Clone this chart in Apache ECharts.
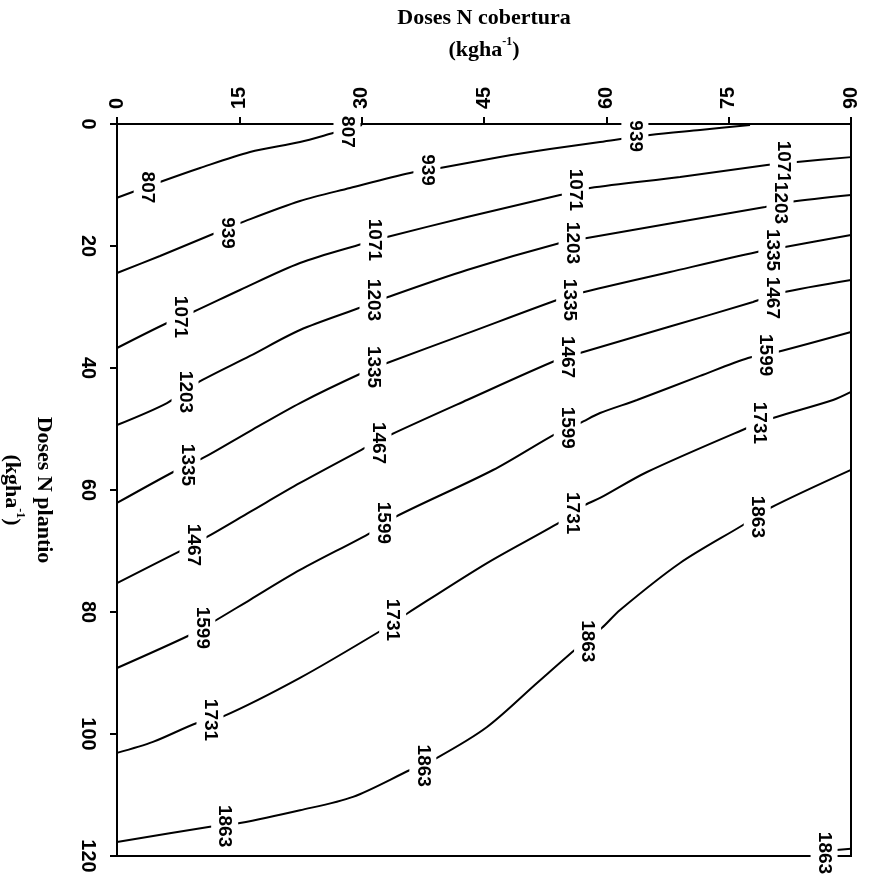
<!DOCTYPE html>
<html>
<head>
<meta charset="utf-8">
<script src="https://cdn.jsdelivr.net/npm/echarts@6/dist/echarts.min.js"></script>
<style>
  html, body { margin: 0; padding: 0; background: #fff; }
  #chart { width: 871px; height: 878px; }
</style>
</head>
<body>
<div id="chart"></div>
<script>
// Isolinhas de produtividade: [dose N cobertura, dose N plantio]
const levels = [807, 939, 1071, 1203, 1335, 1467, 1599, 1731, 1863];

const line807 = [[0, 12.1], [5.27, 9.51], [10.18, 7.21], [16.31, 4.59], [22.44, 2.95], [26.49, 1.48], [30.04, 0.16]];
const line939 = [[0, 24.43], [5.27, 21.64], [11.77, 18.03], [15.08, 16.23], [22.44, 12.62], [28.57, 10.49], [35.93, 8.03],
  [39.61, 7.21], [46.96, 5.41], [53.09, 4.10], [59.23, 2.95], [65.36, 1.80], [71.49, 0.98], [77.62, 0.16]];
const line1071 = [[0, 36.72], [6.13, 32.62], [9.32, 30.82], [15.08, 27.21], [22.44, 22.79], [30.04, 19.67], [33.11, 18.52],
  [42.92, 15.25], [54.32, 11.64], [58.0, 10.49], [69.04, 8.69], [79.7, 6.72], [83.38, 6.23], [90, 5.43]];
const line1203 = [[0, 49.34], [6.13, 45.74], [9.81, 42.46], [16.31, 38.03], [22.44, 33.77], [30.04, 30.0], [33.23, 28.36],
  [42.92, 23.93], [54.32, 19.51], [57.63, 18.69], [68.5, 16.15], [79.46, 13.61], [82.52, 12.79], [90, 11.64]];
const line1335 = [[0, 62.13], [7.36, 56.72], [10.55, 54.75], [16.31, 50.33], [22.44, 45.74], [30.04, 40.82], [33.11, 39.18],
  [42.92, 34.33], [53.95, 28.85], [56.77, 27.70], [67.8, 24.26], [78.47, 20.98], [81.9, 20.16], [90, 18.2]];
const line1467 = [[0, 75.25], [7.97, 69.84], [11.04, 67.70], [16.31, 63.6], [22.44, 58.85], [30.41, 53.11], [33.48, 50.98],
  [42.92, 45.25], [53.95, 38.69], [56.77, 37.54], [67.8, 33.2], [77.99, 29.18], [81.3, 27.7], [90, 25.57]];
const line1599 = [[0, 89.18], [8.95, 83.77], [11.77, 81.64], [16.31, 78.0], [22.44, 73.11], [31.27, 66.89], [34.09, 64.43],
  [46.11, 56.72], [53.95, 50.66], [56.77, 49.02], [59.23, 47.38], [63.76, 45.25], [71.5, 41.3], [77.38, 38.36],
  [80.93, 37.38], [90, 34.1]];
const line1731 = [[0, 103.1], [4.41, 101.3], [9.81, 98.2], [12.88, 97.2], [22.44, 90.8], [32.5, 82.95], [35.68, 80.16],
  [45.37, 71.97], [54.32, 65.25], [57.39, 62.46], [59.23, 61.31], [64.99, 57.05], [77.25, 49.84], [80.44, 48.2],
  [87.8, 45.25], [90, 43.93]];
const line1863 = [[0, 117.7], [11.4, 115.2], [15.08, 114.6], [22.44, 112.5], [28.94, 110.3], [35.93, 105.9], [39.24, 103.9],
  [45.37, 98.85], [51.5, 91.64], [56.4, 85.9], [59.47, 82.6], [61.68, 79.67], [69.04, 71.97], [76.76, 65.74],
  [80.07, 62.95], [90, 56.7]];
const line1863corner = [[88.2, 119.0], [90, 118.8]];

const contourLines = [line807, line939, line1071, line1203, line1335, line1467, line1599, line1731, line1863];

// Posição dos rótulos de cada isolinha
const labels807 = [[3.7, 10.4], [28.2, 1.3]];
const labels939 = [[13.49, 17.87], [38.0, 7.54], [63.5, 2.0]];
const labels1071 = [[7.73, 31.64], [31.5, 19.0], [56.2, 10.8], [81.7, 6.2]];
const labels1203 = [[8.34, 43.93], [31.39, 28.85], [55.8, 19.5], [81.3, 12.95]];
const labels1335 = [[8.58, 55.9], [31.39, 39.84], [55.5, 28.85], [80.3, 20.66]];
const labels1467 = [[9.32, 69.0], [32.0, 52.3], [55.2, 38.2], [80.3, 28.5]];
const labels1599 = [[10.4, 82.6], [32.6, 65.4], [55.2, 49.8], [79.5, 37.9]];
const labels1731 = [[11.4, 97.7], [33.8, 81.3], [55.8, 63.8], [78.8, 49.0]];
const labels1863 = [[13.2, 115.1], [37.5, 105.2], [57.7, 84.8], [78.5, 64.4], [86.7, 119.5]];

const contourLabels = [labels807, labels939, labels1071, labels1203, labels1335, labels1467, labels1599, labels1731, labels1863];

const xTitle = 'Doses N cobertura';
const yTitle = 'Doses N plantio';
const unitMain = '(kgha';
const unitSup = '-1';

const serifFont = "'Liberation Serif', 'Times New Roman', serif";
const sansFont = "'Liberation Sans', Arial, sans-serif";

const titleRich = {
  t: { fontFamily: serifFont, fontWeight: 'bold', fontSize: 22, color: '#000', lineHeight: 32 },
  s: { fontFamily: serifFont, fontWeight: 'bold', fontSize: 12, color: '#000', verticalAlign: 'top', lineHeight: 32, padding: [2, 0, 0, 0] }
};

const series = [];
contourLines.forEach((pts, i) => {
  series.push({
    type: 'line',
    name: String(levels[i]),
    data: pts,
    showSymbol: false,
    symbol: 'none',
    smooth: 0.3,
    lineStyle: { color: '#000', width: 2 },
    z: 3,
    silent: true
  });
});
series.push({
  type: 'line',
  name: '1863b',
  data: line1863corner,
  symbol: 'none',
  lineStyle: { color: '#000', width: 2 },
  z: 3,
  silent: true
});
contourLabels.forEach((pts, i) => {
  series.push({
    type: 'scatter',
    name: 'rot' + levels[i],
    data: pts.map(p => [p[0], p[1], levels[i]]),
    symbolSize: 1,
    itemStyle: { color: '#fff', opacity: 0 },
    z: 5,
    silent: true,
    label: {
      show: true,
      position: 'inside',
      formatter: p => String(p.value[2]),
      rotate: -90,
      color: '#000',
      opacity: 1,
      textBorderWidth: 0,
      textBorderColor: 'transparent',
      textShadowBlur: 0,
      fontFamily: sansFont,
      fontWeight: 'bold',
      fontSize: 19,
      backgroundColor: '#fff',
      padding: [4, 2]
    }
  });
});

const chart = echarts.init(document.getElementById('chart'), null, { renderer: 'canvas' });
chart.setOption({
  backgroundColor: '#fff',
  animation: false,
  grid: {
    left: 117, right: 20, top: 124, bottom: 22,
    outerBoundsMode: 'none',
    containLabel: false,
    show: true, borderColor: '#000', borderWidth: 2, backgroundColor: 'transparent'
  },
  xAxis: {
    type: 'value',
    position: 'top',
    min: 0, max: 90, interval: 15,
    name: '{t|' + xTitle + '}\n{t|' + unitMain + '}{s|' + unitSup + '}{t|)}',
    nameLocation: 'middle',
    nameGap: 58,
    nameTextStyle: { rich: titleRich, align: 'center' },
    axisLine: { show: true, onZero: false, lineStyle: { color: '#000', width: 2 } },
    axisTick: { show: true, inside: false, length: 7, lineStyle: { color: '#000', width: 2 } },
    axisLabel: { rotate: -90, margin: 15, color: '#000', fontFamily: sansFont, fontWeight: 'bold', fontSize: 20 },
    splitLine: { show: false }
  },
  yAxis: {
    type: 'value',
    inverse: true,
    min: 0, max: 120, interval: 20,
    name: '{t|' + yTitle + '}\n{t|' + unitMain + '}{s|' + unitSup + '}{t|)}',
    nameLocation: 'middle',
    nameRotate: -90,
    nameGap: 57,
    nameTextStyle: { rich: titleRich, align: 'center' },
    axisLine: { show: true, onZero: false, lineStyle: { color: '#000', width: 2 } },
    axisTick: { show: true, inside: false, length: 7, lineStyle: { color: '#000', width: 2 } },
    axisLabel: { rotate: -90, margin: 19, color: '#000', fontFamily: sansFont, fontWeight: 'bold', fontSize: 20 },
    splitLine: { show: false }
  },
  series: series
});
</script>
</body>
</html>
